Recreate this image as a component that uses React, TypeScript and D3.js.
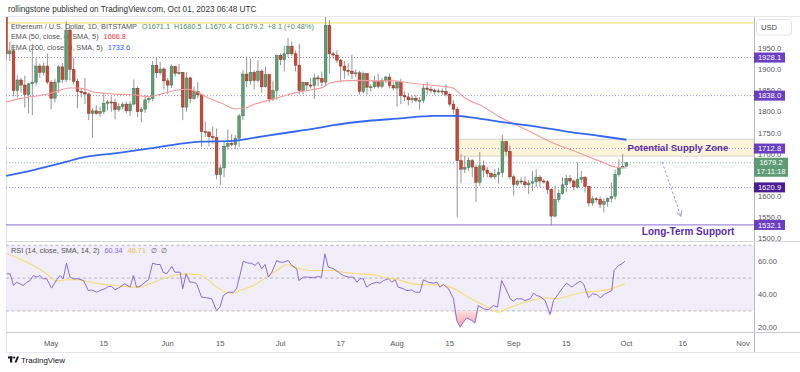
import React from "react";
import * as d3 from "d3";

// ---------- DATA ----------
// daily candles from 2023-04-19 (index 0) to 2023-10-01 (index 165): [open, high, low, close]
const ohlc: [number, number, number, number][] = [
  [2100, 2107, 1922, 1937], [1937, 1965, 1920, 1944], [1944, 1957, 1836, 1850], [1850, 1886, 1834, 1875],
  [1875, 1880, 1845, 1863], [1863, 1885, 1810, 1841], [1841, 1868, 1796, 1866], [1866, 1960, 1792, 1870],
  [1870, 1926, 1862, 1908], [1908, 1914, 1880, 1893], [1893, 1916, 1886, 1908], [1908, 1938, 1865, 1870],
  [1870, 1874, 1806, 1832], [1832, 1878, 1822, 1870], [1870, 1910, 1845, 1906], [1906, 1915, 1868, 1876],
  [1876, 2014, 1870, 1993], [1993, 2005, 1874, 1900], [1900, 1926, 1864, 1872], [1872, 1878, 1808, 1848],
  [1848, 1856, 1834, 1845], [1845, 1880, 1818, 1842], [1842, 1845, 1780, 1796], [1796, 1808, 1738, 1802],
  [1802, 1815, 1793, 1796], [1796, 1812, 1788, 1800], [1800, 1845, 1794, 1820], [1820, 1828, 1803, 1823],
  [1823, 1836, 1800, 1822], [1822, 1830, 1782, 1805], [1805, 1820, 1800, 1812], [1812, 1822, 1806, 1818],
  [1818, 1824, 1796, 1802], [1802, 1825, 1790, 1818], [1818, 1876, 1815, 1855], [1855, 1860, 1787, 1800],
  [1800, 1811, 1775, 1806], [1806, 1840, 1797, 1828], [1828, 1838, 1820, 1831], [1831, 1920, 1825, 1909],
  [1909, 1927, 1880, 1892], [1892, 1918, 1887, 1901], [1901, 1905, 1852, 1873], [1873, 1880, 1842, 1863],
  [1863, 1912, 1856, 1907], [1907, 1909, 1884, 1891], [1891, 1913, 1887, 1893], [1893, 1894, 1780, 1811],
  [1811, 1893, 1800, 1880], [1880, 1883, 1820, 1831], [1831, 1860, 1828, 1848], [1848, 1870, 1832, 1840],
  [1840, 1842, 1716, 1753], [1753, 1777, 1740, 1752], [1752, 1753, 1718, 1741], [1741, 1765, 1724, 1739],
  [1739, 1760, 1640, 1651], [1651, 1675, 1626, 1667], [1667, 1730, 1645, 1718], [1718, 1758, 1710, 1725],
  [1725, 1747, 1718, 1722], [1722, 1744, 1711, 1737], [1737, 1795, 1716, 1790], [1790, 1898, 1780, 1889],
  [1889, 1930, 1858, 1873], [1873, 1925, 1864, 1893], [1893, 1898, 1852, 1874], [1874, 1922, 1870, 1896],
  [1896, 1900, 1845, 1859], [1859, 1906, 1857, 1888], [1888, 1890, 1822, 1830], [1830, 1872, 1825, 1850],
  [1850, 1935, 1828, 1933], [1933, 1938, 1910, 1923], [1923, 1955, 1895, 1937], [1937, 1975, 1930, 1955],
  [1955, 1966, 1932, 1937], [1937, 1945, 1895, 1910], [1910, 1960, 1840, 1850], [1850, 1872, 1842, 1869],
  [1869, 1870, 1850, 1863], [1863, 1880, 1855, 1862], [1862, 1890, 1830, 1880], [1880, 1887, 1860, 1878],
  [1878, 1895, 1860, 1870], [1870, 2030, 1863, 2004], [2004, 2017, 1890, 1937], [1937, 1942, 1924, 1934],
  [1934, 1945, 1915, 1922], [1922, 1925, 1870, 1908], [1908, 1920, 1878, 1898], [1898, 1915, 1885, 1896],
  [1896, 1935, 1877, 1890], [1890, 1900, 1882, 1892], [1892, 1897, 1840, 1848], [1848, 1895, 1843, 1890],
  [1890, 1892, 1840, 1858], [1858, 1865, 1848, 1859], [1859, 1885, 1855, 1871], [1871, 1890, 1855, 1860],
  [1860, 1880, 1855, 1874], [1874, 1885, 1868, 1882], [1882, 1890, 1855, 1862], [1862, 1870, 1850, 1856],
  [1856, 1873, 1812, 1869], [1869, 1878, 1818, 1838], [1838, 1848, 1825, 1835], [1835, 1845, 1815, 1828],
  [1828, 1838, 1820, 1832], [1832, 1840, 1822, 1827], [1827, 1835, 1805, 1827], [1827, 1866, 1820, 1856],
  [1856, 1870, 1840, 1853], [1853, 1860, 1843, 1850], [1850, 1855, 1840, 1847], [1847, 1855, 1845, 1849],
  [1849, 1855, 1840, 1848], [1848, 1865, 1836, 1841], [1841, 1845, 1812, 1818], [1818, 1827, 1795, 1806],
  [1806, 1812, 1550, 1684], [1684, 1700, 1630, 1664], [1664, 1695, 1655, 1668], [1668, 1692, 1660, 1684],
  [1684, 1688, 1645, 1669], [1669, 1675, 1587, 1633], [1633, 1705, 1625, 1672], [1672, 1684, 1645, 1662],
  [1662, 1670, 1645, 1654], [1654, 1658, 1642, 1646], [1646, 1665, 1640, 1652], [1652, 1667, 1630, 1656],
  [1656, 1745, 1645, 1729], [1729, 1732, 1696, 1706], [1706, 1720, 1640, 1646], [1646, 1650, 1602, 1628],
  [1628, 1640, 1624, 1636], [1636, 1645, 1628, 1634], [1634, 1647, 1620, 1627], [1627, 1638, 1605, 1631],
  [1631, 1660, 1612, 1634], [1634, 1664, 1622, 1645], [1645, 1650, 1622, 1636], [1636, 1640, 1630, 1634],
  [1634, 1638, 1605, 1616], [1616, 1619, 1531, 1553], [1553, 1625, 1550, 1592], [1592, 1615, 1585, 1607],
  [1607, 1645, 1604, 1627], [1627, 1650, 1610, 1642], [1642, 1650, 1630, 1636], [1636, 1640, 1615, 1622],
  [1622, 1680, 1618, 1640], [1640, 1660, 1631, 1644], [1644, 1648, 1609, 1623], [1623, 1625, 1575, 1584],
  [1584, 1600, 1577, 1594], [1594, 1598, 1586, 1593], [1593, 1600, 1572, 1581], [1581, 1595, 1562, 1587],
  [1587, 1597, 1575, 1595], [1595, 1632, 1585, 1600], [1600, 1663, 1592, 1652], [1652, 1687, 1646, 1667],
  [1667, 1700, 1665, 1671], [1671.1, 1680.5, 1670.4, 1679.2],
];

// EMA lines: [candle index, price]
const ema50Pts: [number, number][] = [
  [0, 1823], [3.7, 1831], [7.2, 1836], [11.7, 1843], [14.4, 1851], [17, 1856], [19.7, 1856], [23.1, 1847],
  [26.9, 1843], [30.3, 1841], [33.8, 1840], [37.5, 1836], [41, 1841], [44.9, 1850], [48.5, 1853], [50.3, 1849],
  [53.7, 1833], [57.4, 1820], [60.9, 1807], [62.8, 1807], [66.2, 1818], [71.5, 1831], [75, 1840], [78.7, 1848],
  [82.2, 1853], [84.3, 1858], [86.2, 1868], [89.6, 1873], [94.1, 1874], [98.7, 1873], [102.9, 1873],
  [107.4, 1868], [112.8, 1863], [116.2, 1860], [118.9, 1856], [121.5, 1836], [123.4, 1826], [126.9, 1812],
  [131.4, 1787], [135.9, 1768], [140.2, 1749], [145.5, 1726], [150.8, 1708], [155.9, 1690], [159.3, 1678],
  [162, 1669], [165, 1666.8],
];
const ema200Pts: [number, number][] = [
  [0, 1648], [7.2, 1662], [16.2, 1682], [20.5, 1692], [29.5, 1702], [38.3, 1713], [47.1, 1725], [51.6, 1729],
  [60.4, 1731], [64.9, 1737], [73.7, 1749], [82.7, 1761], [87, 1768], [96, 1778], [104.8, 1784], [113.6, 1790],
  [120, 1790], [122.6, 1788], [131.4, 1776], [140.2, 1766], [149.2, 1753], [158, 1742.5], [165, 1733.6],
];

// RSI(14) and its SMA: [candle index, value]
const rsiPts: [number, number][] = [
  [0.2, 52.6], [1.1, 52.6], [2, 45.5], [2.8, 47.5], [3.7, 46.5], [4.6, 45.5], [5.5, 47.5], [6.4, 48.5],
  [7.3, 51.6], [8.2, 50.6], [9, 51.6], [9.9, 49.6], [10.8, 49.6], [12.1, 43.9], [13.5, 49], [14.4, 51.6],
  [15.2, 49.6], [16.1, 59.1], [17, 50.6], [17.9, 49.6], [19.2, 49.6], [20.6, 48.5], [21.9, 42.4], [22.8, 42.8],
  [24.1, 41.4], [25, 42.4], [26.3, 43.5], [27.2, 44.9], [28.1, 44.9], [29, 42.8], [30.3, 44.5], [31.6, 46.5],
  [33, 44.5], [33.9, 51.6], [34.7, 44.5], [35.6, 44.9], [37, 47.5], [37.9, 49], [39, 59.1], [40.1, 58.3],
  [41, 58.3], [41.8, 53.6], [42.7, 52.6], [44.1, 57.1], [44.9, 53.6], [46.3, 53.6], [47, 43.5], [47.9, 52.6],
  [48.9, 47.5], [49.8, 47.5], [50.7, 46.5], [52, 38.4], [53.4, 38], [54.7, 37.4], [56, 30.2], [56.9, 32.3],
  [57.8, 39.4], [59.1, 41.4], [60.5, 41.4], [61.3, 43.5], [62.2, 51.6], [63.1, 60.3], [64.4, 59.1], [65.3, 59.1],
  [66.2, 57.7], [67.1, 59.7], [68, 55.7], [68.9, 58.3], [69.8, 50.6], [70.7, 53.6], [72, 60.7], [72.9, 59.7],
  [73.8, 59.7], [75.1, 60.7], [76, 57.7], [77.3, 55.7], [77.9, 48.5], [79.1, 50.6], [80.4, 50.6], [81.7, 50.2],
  [83.1, 51], [83.9, 50.6], [84.8, 64.8], [85.7, 56.7], [87.1, 55.7], [88.4, 53.6], [89.7, 51.6], [91, 50.6],
  [92.4, 50.6], [93.3, 47.5], [94.1, 49.6], [95, 49.6], [95.9, 44.5], [97.2, 46.5], [98.6, 47.5], [99.5, 46.9],
  [100.4, 48.5], [101.7, 49.6], [102.6, 47.5], [103.5, 49], [104.3, 44.5], [105.7, 43.5], [106.6, 42.4],
  [107.9, 42.8], [108.8, 41.4], [110.1, 41.4], [111, 49], [112.3, 47.5], [113.7, 46.9], [114.6, 47.5],
  [115.4, 44.5], [116.3, 46.1], [117.7, 43.5], [119, 37.4], [119.9, 24.1], [120.8, 20.1], [121.6, 23.1],
  [122.5, 25.8], [123.9, 24.1], [124.7, 22.5], [125.6, 33.3], [127, 31.3], [128.3, 30.6], [129.6, 33.3],
  [130.7, 32.3], [131.8, 48.5], [132.7, 44.5], [134.1, 37.4], [134.9, 36], [135.8, 37.4], [137.2, 37.4],
  [138, 36.3], [139.4, 37.4], [140.3, 40.8], [141.1, 39.4], [142, 38.8], [143.4, 36.3], [144.7, 27.8],
  [145.6, 36.3], [146.9, 40.4], [148.2, 44.5], [149.1, 46.9], [150.5, 44.5], [151.6, 46.5], [152.7, 48.1],
  [153.6, 46.5], [154.9, 38], [156, 40.4], [157.1, 40], [158, 38], [159.1, 40], [160.2, 41.4], [161.1, 42.4],
  [161.7, 54.6], [162.9, 57.7], [163.8, 58.7], [164.6, 60.34],
];
const rsiMaPts: [number, number][] = [
  [0.2, 64.8], [3.7, 61.7], [7.3, 57.7], [10.8, 52.6], [13.5, 48.1], [16.1, 49], [18.8, 49], [21.4, 48.1],
  [25, 46.5], [29.4, 45.5], [33.9, 44.5], [35.6, 44.5], [38.3, 46.5], [41, 49], [44.5, 51.6], [48, 52.6],
  [51.2, 52.2], [53.4, 49.6], [56, 44.5], [58.7, 41.4], [60.5, 40.8], [62.2, 42.4], [65.8, 45.5], [69.3, 50.6],
  [72, 54.6], [74.6, 58.1], [76.4, 57.1], [78.2, 55.7], [80.8, 54.6], [84.4, 54.6], [87.1, 54.6], [90.6, 53.2],
  [94.1, 52.6], [97.7, 52], [101.2, 50.2], [104.3, 49], [108.3, 46.5], [111.9, 45.9], [115.4, 45.9],
  [118.1, 44.5], [120.8, 41.4], [124.3, 36.7], [127.8, 32.7], [131, 29.2], [133.2, 31.3], [136.7, 34.3],
  [140.3, 36.7], [143.8, 38], [146.5, 37.4], [150, 39.4], [153.6, 41.4], [157.1, 42], [159.8, 42.8],
  [161.5, 43.9], [164.6, 46.71],
];

// 1650.0 is fully covered by the live-price tag in the reference, so it is not listed
const priceTicks = [1500, 1550, 1600, 1700, 1750, 1800, 1850, 1900, 1950];
const rsiTicks = [20, 40, 60];
const rsiBands = [70, 50, 30];
const dateTicks: [number, string][] = [
  [12, "May"], [26, "15"], [43, "Jun"], [57, "15"], [73, "Jul"], [89, "17"], [104, "Aug"],
  [118, "15"], [135, "Sep"], [149, "15"], [165, "Oct"], [180, "16"], [196, "Nov"],
];
const dottedLevels = [1928.1, 1838.0, 1712.8, 1620.9];
const supportLevel = 1532.1;
const topLevel = 2010;
const lastPrice = 1679.2;
const supplyZone: [number, number, number] = [120, 1695, 1735]; // start index, low, high
const levelLabels: [number, string][] = [
  [1928.1, "#6a3fc1"], [1838.0, "#6a3fc1"], [1712.8, "#6a3fc1"], [1620.9, "#4a1d96"], [1532.1, "#6a3fc1"],
];
const arrowPts: [number, number][] = [[174.5, 1681], [179.5, 1552]];

// ---------- LAYOUT ----------
const W = 800, H = 372;
const L = 6, R = 754;
const mainTop = 17, mainBot = 241;
const rsiTop = 241, rsiBot = 332;
const axBot = 352;
const FONT = "'Liberation Sans', Arial, sans-serif";

const x = d3.scaleLinear().domain([0, 196]).range([6, 743]);
const y = d3.scaleLinear().domain([1500, 1950]).range([238.5, 48.3]);
const ry = d3.scaleLinear().domain([20, 60]).range([327.3, 261.7]);

const UP = "#5e9e71", UP_S = "#3f7552", DN = "#cc4836", DN_S = "#8a2c20", WICK = "#8a8a8a";

export default function App() {
  const emaLine = d3.line<[number, number]>().x(d => x(d[0])).y(d => y(d[1])).curve(d3.curveMonotoneX);
  const rsiLine = d3.line<[number, number]>().x(d => x(d[0])).y(d => ry(d[1]));
  const maLine = d3.line<[number, number]>().x(d => x(d[0])).y(d => ry(d[1])).curve(d3.curveMonotoneX);
  const oversold = d3.area<[number, number]>().x(d => x(d[0])).y0(ry(30)).y1(d => ry(Math.min(30, d[1])));
  const bw = 2.7;

  return (
    <svg width={W} height={H} style={{ position: "absolute", left: 0, top: 0, background: "#fff" }} fontFamily={FONT}>
      <defs>
        <clipPath id="mainClip"><rect x={L} y={mainTop} width={R - L} height={mainBot - mainTop} /></clipPath>
        <clipPath id="rsiClip"><rect x={L} y={rsiTop} width={R - L} height={rsiBot - rsiTop} /></clipPath>
        <linearGradient id="osGrad" x1="0" y1="0" x2="0" y2="1">
          <stop offset="0%" stopColor="#fde0e0" />
          <stop offset="100%" stopColor="#f4a0a0" />
        </linearGradient>
        <marker id="arrowHead" viewBox="0 0 10 10" refX="9" refY="5" markerWidth="7" markerHeight="7" orient="auto">
          <path d="M1,1 L9,5 L1,9" fill="none" stroke="#a48fd8" strokeWidth="1.2" />
        </marker>
      </defs>
      <rect x={0} y={0} width={W} height={H} fill="#fff" />

      {/* header */}
      <text x={8} y={12} fontSize={8.2} fill="#333">rollingstone published on TradingView.com, Oct 01, 2023 06:48 UTC</text>

      {/* frames */}
      <line x1={L} x2={W} y1={mainTop - 0.5} y2={mainTop - 0.5} stroke="#e6e6ee" />
      <line x1={L + 0.5} x2={L + 0.5} y1={mainTop} y2={axBot} stroke="#e0e3eb" />
      <line x1={R + 0.5} x2={R + 0.5} y1={mainTop} y2={axBot} stroke="#b8bbc3" />
      <line x1={L} x2={W} y1={rsiTop + 0.5} y2={rsiTop + 0.5} stroke="#d6d8de" />
      <line x1={L} x2={W} y1={rsiBot + 0.5} y2={rsiBot + 0.5} stroke="#c8cad0" />
      <line x1={L} x2={W} y1={axBot + 0.5} y2={axBot + 0.5} stroke="#e6e8ee" />

      {/* legend */}
      <g fontSize={7.3}>
        <text x={11} y={28.5} fill="#555">
          Ethereum / U.S. Dollar, 1D, BITSTAMP
          <tspan fill="#4e8c63" dx={5}>O1671.1</tspan>
          <tspan fill="#4e8c63" dx={4}>H1680.5</tspan>
          <tspan fill="#4e8c63" dx={4}>L1670.4</tspan>
          <tspan fill="#4e8c63" dx={4}>C1679.2</tspan>
          <tspan fill="#4e8c63" dx={4}>+8.1 (+0.48%)</tspan>
        </text>
        <text x={11} y={39} fill="#555">EMA (50, close, 0, SMA, 5)<tspan fill="#f23645" dx={5}>1666.8</tspan></text>
        <text x={11} y={49.5} fill="#555">EMA (200, close, 0, SMA, 5)<tspan fill="#2962ff" dx={5}>1733.6</tspan></text>
      </g>

      {/* main panel */}
      <g clipPath="url(#mainClip)">
        <line x1={L} x2={R} y1={y(topLevel)} y2={y(topLevel)} stroke="#f3dd5a" strokeWidth={1} />
        <rect x={x(supplyZone[0])} y={y(supplyZone[2])} width={R - x(supplyZone[0])}
          height={y(supplyZone[1]) - y(supplyZone[2])} fill="#fdf5d9" stroke="#c9c9c9" strokeWidth={0.8} />
        {dottedLevels.map(v => (
          <line key={v} x1={L} x2={R} y1={y(v)} y2={y(v)} stroke="#9c88d8" strokeWidth={1} strokeDasharray="1 2" />
        ))}
        <line x1={L} x2={R} y1={y(lastPrice)} y2={y(lastPrice)} stroke="#7fb08e" strokeWidth={1} strokeDasharray="1 2" />
        <line x1={L} x2={R} y1={y(supportLevel)} y2={y(supportLevel)} stroke="#a08ad8" strokeWidth={1.3} />

        {ohlc.map((d, i) => {
          const [o, h, l, c] = d;
          const up = c >= o;
          const cx = x(i);
          const top = y(Math.max(o, c));
          const hh = Math.max(1, y(Math.min(o, c)) - top);
          return (
            <g key={i}>
              <line x1={cx} x2={cx} y1={y(h)} y2={y(l)} stroke={WICK} strokeWidth={0.9} />
              <rect x={cx - bw / 2} y={top} width={bw} height={hh} fill={up ? UP : DN} stroke={up ? UP_S : DN_S} strokeWidth={0.5} />
            </g>
          );
        })}

        <path d={emaLine(ema50Pts) || ""} fill="none" stroke="#f49a9a" strokeWidth={1.1} />
        <path d={emaLine(ema200Pts) || ""} fill="none" stroke="#3568f0" strokeWidth={1.8} />

        <path d={d3.line<[number, number]>().x(d => x(d[0])).y(d => y(d[1]))(arrowPts) || ""}
          fill="none" stroke="#a48fd8" strokeWidth={1} strokeDasharray="2.5 2" markerEnd="url(#arrowHead)" />
      </g>

      <text x={x(165.3)} y={y(1715) + 3.5} fontSize={9.6} fontWeight="bold" fill="#5b2ea6">Potential Supply Zone</text>
      <text x={x(169.1)} y={y(1516) + 3.5} fontSize={10} fontWeight="bold" fill="#5b2ea6">Long-Term Support</text>

      {/* RSI panel */}
      <g clipPath="url(#rsiClip)">
        <rect x={L} y={ry(70)} width={R - L} height={ry(30) - ry(70)} fill="#f1edf9" />
        {rsiBands.map(v => (
          <line key={v} x1={L} x2={R} y1={ry(v)} y2={ry(v)} stroke="#a9a9b3" strokeWidth={0.8} strokeDasharray="3 2.5" />
        ))}
        <path d={oversold(rsiPts) || ""} fill="url(#osGrad)" />
        <path d={maLine(rsiMaPts) || ""} fill="none" stroke="#f5dd72" strokeWidth={1.1} />
        <path d={rsiLine(rsiPts) || ""} fill="none" stroke="#8e6bd1" strokeWidth={1} />
      </g>
      <text x={11} y={252.5} fontSize={7.3} fill="#555">
        RSI (14, close, SMA, 14, 2)
        <tspan fill="#8e6bd1" dx={5}>60.34</tspan>
        <tspan fill="#e8c84a" dx={5}>46.71</tspan>
        <tspan fill="#666" dx={5}>∅</tspan>
        <tspan fill="#666" dx={4}>∅</tspan>
      </text>

      {/* price axis */}
      <rect x={756.5} y={19.5} width={35} height={15.5} rx={3} fill="#fff" stroke="#e0e3eb" />
      <text x={761} y={30} fontSize={7.6} fill="#444">USD</text>
      {priceTicks.map(v => (
        <text key={v} x={758} y={y(v) + 2.7} fontSize={7.6} fill="#555">{v.toFixed(1)}</text>
      ))}
      {levelLabels.map(([v, col]) => (
        <g key={v}>
          <rect x={754} y={y(v) - 5} width={31} height={10} fill={col} />
          <text x={769.5} y={y(v) + 2.7} fontSize={7.6} fill="#fff" textAnchor="middle">{v.toFixed(1)}</text>
        </g>
      ))}
      <rect x={754} y={y(lastPrice) - 5} width={34} height={19} fill="#5d9c72" />
      <text x={771} y={y(lastPrice) + 2.7} fontSize={7.6} fill="#fff" textAnchor="middle">{lastPrice.toFixed(1)}</text>
      <text x={771} y={y(lastPrice) + 11.7} fontSize={7.6} fill="#fff" textAnchor="middle">17:11:18</text>

      {/* RSI axis */}
      {rsiTicks.map(v => (
        <text key={v} x={758} y={ry(v) + 2.7} fontSize={7.6} fill="#555">{v.toFixed(2)}</text>
      ))}

      {/* time axis */}
      {dateTicks.map(([i, s]) => (
        <text key={i} x={x(i)} y={345.5} fontSize={7.6} fill="#555" textAnchor="middle">{s}</text>
      ))}

      {/* footer */}
      <g transform="translate(8,356)" fill="#131722">
        <rect x={0} y={0.5} width={4.5} height={2} />
        <rect x={2} y={0.5} width={2.2} height={6} />
        <circle cx={6.2} cy={1.6} r={1.1} />
        <path d="M6.5,6.5 L9,0.6 L11,0.6 L8.5,6.5 Z" />
      </g>
      <text x={21} y={362.5} fontSize={8} fill="#131722">TradingView</text>
    </svg>
  );
}
